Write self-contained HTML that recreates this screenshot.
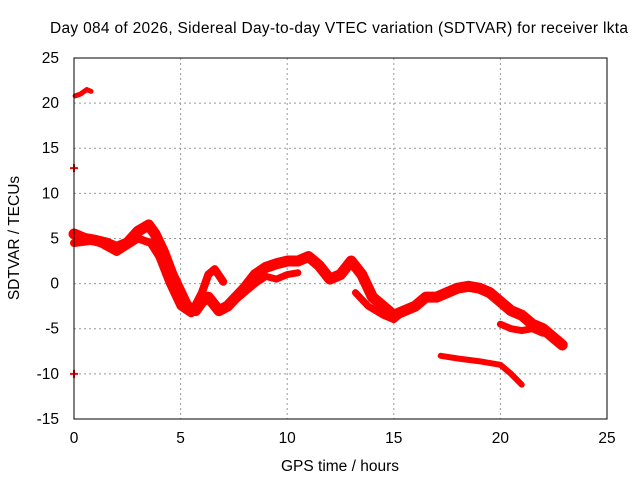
<!DOCTYPE html>
<html><head><meta charset="utf-8"><style>
body{margin:0;background:#fff}
svg text{font-family:"Liberation Sans",sans-serif;font-size:15.5px;fill:#000}
</style></head><body>
<svg id="chart" width="640" height="480">
<text x="339" y="33" text-anchor="middle" textLength="578">Day 084 of 2026, Sidereal Day-to-day VTEC variation (SDTVAR) for receiver lkta</text>
<g id="grid"></g>
<g id="axes"></g>
<g id="series"></g>
<rect x="74" y="58" width="533" height="361" fill="none" stroke="#000"/>
<text x="340" y="471" text-anchor="middle">GPS time / hours</text>
<text x="19" y="238" text-anchor="middle" transform="rotate(-90 19 238)">SDTVAR / TECUs</text>
</svg>
<script>
const xTicks=[0,5,10,15,20,25];
const yTicks=[-15,-10,-5,0,5,10,15,20,25];
const traceMain=[[0,5.5],[0.5,5],[1,4.8],[1.5,4.5],[2,4],[2.5,4.5],[3,5.8],[3.5,6.5],[3.8,5.5],[4.2,3.5],[4.6,1],[5,-1],[5.3,-2.5],[5.7,-3],[6,-2],[6.3,-1.5],[6.8,-3],[7.2,-2.5],[7.6,-1.5],[8,-0.5],[8.5,1],[9,1.8],[9.5,2.2],[10,2.5],[10.5,2.5],[11,3],[11.5,2],[12,0.5],[12.5,1],[13,2.5],[13.5,1],[14,-1.5],[14.5,-2.5],[15,-3.5],[15.5,-3],[16,-2.5],[16.5,-1.5],[17,-1.5],[17.5,-1],[18,-0.5],[18.5,-0.3],[19,-0.5],[19.5,-1],[20,-2],[20.5,-3],[21,-3.5],[21.5,-4.5],[22,-5],[22.5,-6],[22.9,-6.8]];
const traceB=[[0,4.5],[1,4.8],[2,3.5],[3,5],[3.6,4.5],[4,3],[4.5,0],[5,-2.5],[5.5,-3.3],[6,-1],[6.3,1],[6.6,1.6],[7,0.2]];
const traceC=[[7,-3],[7.5,-2],[8,-1],[8.5,0],[9,0.8],[9.5,0.5],[10,1],[10.5,1.2]];
const traceE=[[13.2,-1],[13.8,-2.5],[14.5,-3.5],[15,-4],[15.5,-3],[16,-2.5]];
const traceD=[[20,-4.5],[20.5,-5],[21,-5.2],[21.5,-5],[22,-5.5]];
const traceLow=[[17.2,-8],[18,-8.3],[19,-8.6],[20,-9],[20.5,-10],[21,-11.2]];
const traceTop=[[0.05,20.8],[0.3,21],[0.6,21.5],[0.8,21.3]];
const isolated=[[0,-10],[0,12.8]];
const NS="http://www.w3.org/2000/svg";
const X=h=>74+h*533/25, Y=v=>283.6-v*9.025;
const grid=document.getElementById('grid'),axes=document.getElementById('axes'),ser=document.getElementById('series');
function mk(t,a,p){const e=document.createElementNS(NS,t);for(const k in a)e.setAttribute(k,a[k]);p.appendChild(e);return e;}
xTicks.forEach(t=>{
 if(t>0&&t<25){const g=mk('line',{x1:X(t),x2:X(t),y1:58,y2:419,stroke:'#999','stroke-dasharray':'2,3'},grid);
 
 }
 const l=mk('text',{x:X(t),y:443,'text-anchor':'middle'},axes);l.textContent=t;
 
 
});
yTicks.forEach(t=>{
 if(t>-15&&t<25){const g=mk('line',{x1:74,x2:607,y1:Y(t),y2:Y(t),stroke:'#999','stroke-dasharray':'2,3'},grid);
 
 }
 const l=mk('text',{x:59,y:Y(t)+5,'text-anchor':'end'},axes);l.textContent=t;
 
 
});
function trace(d,w,name){
 const p=mk('polyline',{points:d.map(q=>X(q[0])+','+Y(q[1])).join(' '),fill:'none',stroke:'#f00','stroke-width':w,'stroke-linejoin':'round','stroke-linecap':'round'},ser);
 
 
}
trace(traceMain,11,'trace-main');
trace(traceB,8,'trace-b');
trace(traceC,7,'trace-c');
trace(traceE,7,'trace-e');
trace(traceD,7,'trace-d');
trace(traceLow,6,'trace-low');
trace(traceTop,5,'trace-top');
isolated.forEach(q=>{
 const p=mk('path',{d:`M${X(q[0])-4},${Y(q[1])}h8M${X(q[0])},${Y(q[1])-4}v8`,stroke:'#f00','stroke-width':2},ser);
 
 
});
</script>
</body></html>
